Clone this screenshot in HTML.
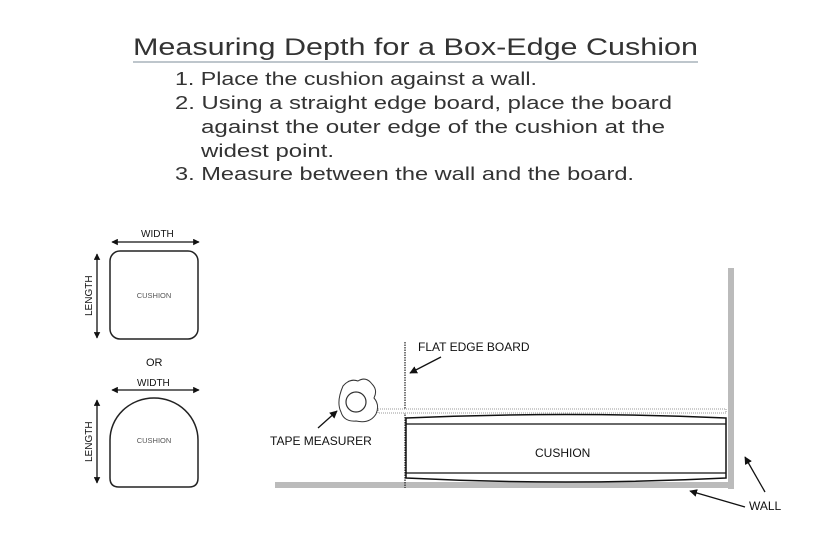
<!DOCTYPE html>
<html><head><meta charset="utf-8"><style>
html,body{margin:0;padding:0;background:#fff;width:835px;height:557px;overflow:hidden}
svg{display:block}
.t{font-family:"Liberation Sans","DejaVu Sans",sans-serif;fill:#333}
.s{font-family:"Liberation Sans",sans-serif;fill:#111}
</style></head><body>
<svg width="835" height="557" viewBox="0 0 835 557" xmlns="http://www.w3.org/2000/svg">
<defs>
<marker id="a" viewBox="0 0 10 10" refX="9" refY="5" markerWidth="6" markerHeight="6" orient="auto-start-reverse"><path d="M0,0 L10,5 L0,10z" fill="#111"/></marker>
<marker id="b" viewBox="0 0 10 10" refX="9" refY="5" markerWidth="5" markerHeight="5" orient="auto-start-reverse"><path d="M0,0 L10,5 L0,10z" fill="#111"/></marker>
</defs>
<text class="t" x="133" y="55" font-size="24" textLength="565" lengthAdjust="spacingAndGlyphs">Measuring Depth for a Box-Edge Cushion</text>
<line x1="133" y1="62" x2="698" y2="62" stroke="#7d8c99" stroke-width="1"/>
<g class="t" font-size="18">
<text x="175" y="85" textLength="362" lengthAdjust="spacingAndGlyphs">1. Place the cushion against a wall.</text>
<text x="175" y="109" textLength="497" lengthAdjust="spacingAndGlyphs">2. Using a straight edge board, place the board</text>
<text x="201" y="133" textLength="464" lengthAdjust="spacingAndGlyphs">against the outer edge of the cushion at the</text>
<text x="201" y="157" textLength="133" lengthAdjust="spacingAndGlyphs">widest point.</text>
<text x="175" y="180" textLength="459" lengthAdjust="spacingAndGlyphs">3. Measure between the wall and the board.</text>
</g>
<text class="s" x="141" y="237" font-size="10">WIDTH</text>
<line x1="112" y1="242" x2="199" y2="242" stroke="#111" stroke-width="1.3" marker-start="url(#b)" marker-end="url(#b)"/>
<rect x="110" y="251" width="88" height="88" rx="10" fill="none" stroke="#222" stroke-width="1.5"/>
<text x="154" y="298" font-size="7.5" fill="#555" font-family="Liberation Sans,sans-serif" text-anchor="middle">CUSHION</text>
<line x1="97" y1="254" x2="97" y2="338" stroke="#111" stroke-width="1.3" marker-start="url(#b)" marker-end="url(#b)"/>
<text class="s" font-size="10" transform="translate(92,316) rotate(-90)">LENGTH</text>
<text class="s" x="146" y="366" font-size="11">OR</text>
<text class="s" x="137" y="386" font-size="10">WIDTH</text>
<line x1="112" y1="390" x2="199" y2="390" stroke="#111" stroke-width="1.3" marker-start="url(#b)" marker-end="url(#b)"/>
<path d="M110,478 L110,440 A44,42 0 0 1 198,440 L198,478 Q198,487 189,487 L119,487 Q110,487 110,478Z" fill="none" stroke="#222" stroke-width="1.5"/>
<text x="154" y="443" font-size="7.5" fill="#555" font-family="Liberation Sans,sans-serif" text-anchor="middle">CUSHION</text>
<line x1="97" y1="400" x2="97" y2="483" stroke="#111" stroke-width="1.3" marker-start="url(#b)" marker-end="url(#b)"/>
<text class="s" font-size="10" transform="translate(92,462) rotate(-90)">LENGTH</text>
<rect x="728" y="268" width="6" height="221" fill="#bbb"/>
<rect x="275" y="482" width="459" height="6" fill="#bbb"/>
<line x1="405" y1="342" x2="405" y2="488" stroke="#222" stroke-width="1.2" stroke-dasharray="1.5,1"/>
<rect x="378" y="409" width="348" height="4" fill="#fff" stroke="#777" stroke-width="0.8" stroke-dasharray="1,1"/>
<path d="M406,418 Q566,411 726,418 L726,478 Q566,486 406,478 Z" fill="#fff" stroke="#111" stroke-width="1.5"/>
<line x1="406" y1="424" x2="726" y2="424" stroke="#111" stroke-width="1.3"/>
<line x1="406" y1="473" x2="726" y2="473" stroke="#111" stroke-width="1.3"/>
<text class="s" x="535" y="457" font-size="12">CUSHION</text>
<path d="M343,386 Q350,378 358,381 Q366,376 372,384 Q378,390 374,398 Q380,405 376,414 Q370,424 356,421 Q344,422 341,412 Q336,402 343,386Z" fill="#fff" stroke="#333" stroke-width="1"/>
<circle cx="356" cy="402" r="10" fill="#fff" stroke="#333" stroke-width="1.2"/>
<line x1="318" y1="428" x2="337" y2="411" stroke="#111" stroke-width="1.3" marker-end="url(#a)"/>
<text class="s" x="270" y="445" font-size="12">TAPE MEASURER</text>
<text class="s" x="418" y="351" font-size="12">FLAT EDGE BOARD</text>
<line x1="441" y1="357" x2="410" y2="373" stroke="#111" stroke-width="1.3" marker-end="url(#a)"/>
<line x1="765" y1="492" x2="745" y2="457" stroke="#111" stroke-width="1.3" marker-end="url(#a)"/>
<line x1="745" y1="507" x2="690" y2="491" stroke="#111" stroke-width="1.3" marker-end="url(#a)"/>
<text class="s" x="749" y="510" font-size="12">WALL</text>
</svg>
</body></html>
